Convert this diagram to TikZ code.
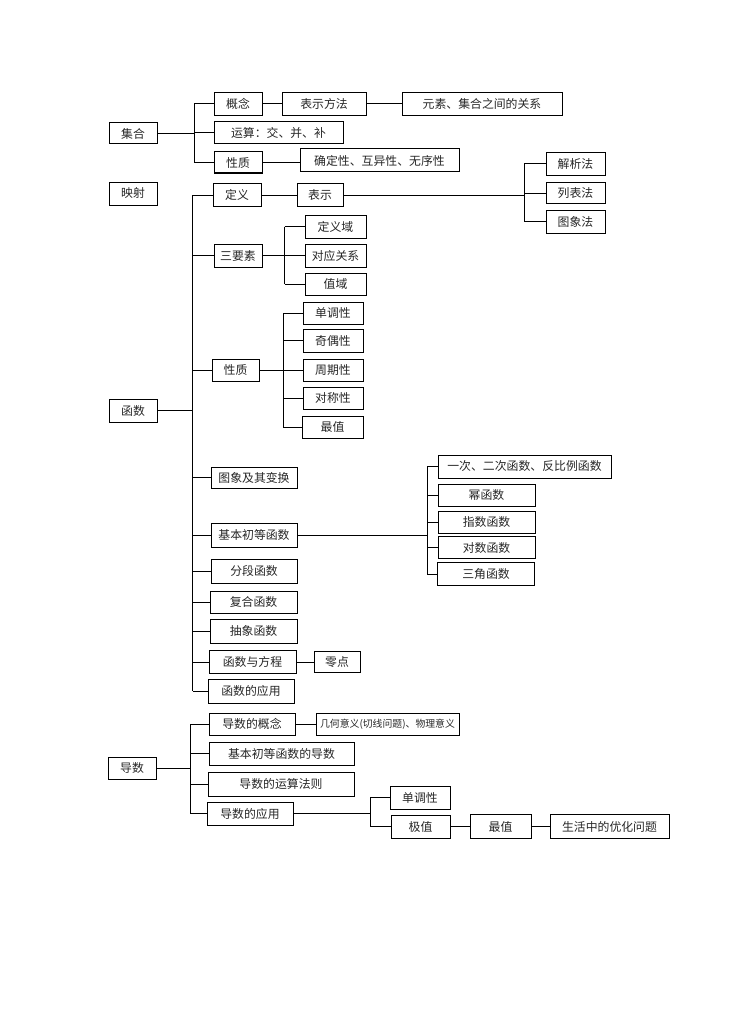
\documentclass[tikz,border=0pt]{standalone}
\usepackage{fontspec}
\setmainfont{Noto Sans CJK SC}
\usepackage{tikz}

\begin{document}
\begin{tikzpicture}[
    x=0.75pt, y=-0.75pt,
    box/.style={draw,line width=0.75pt,inner sep=0pt,minimum height=17.25pt,
        text=black!85,font=\fontsize{8.9}{10}\selectfont},
    bw/.style={minimum width=#1*0.75pt},
    bh/.style={minimum height=#1*0.75pt},
    link/.style={line width=0.75pt}
]
\useasboundingbox (0,0) rectangle (737,1020);

% 集合
\node[box,bw=48,bh=21] (jihe) at (133,133.5) {集合};
\node[box,bw=48] (gainian) at (238,104) {概念};
\node[box,bw=84] (fangfa) at (324,104) {表示方法};
\node[box,bw=160] (guanxi) at (482,104) {元素、集合之间的关系};
\node[box,bw=129,bh=22] (yunsuan) at (278.5,133) {运算：交、并、补};
\node[box,bw=48,bh=21] (xingzhiJ) at (238,162.5) {性质};
\node[box,bw=159] (queding) at (379.5,160.5) {确定性、互异性、无序性};

% 映射
\node[box,bw=48] (yingshe) at (133,193.5) {映射};

% 函数
\node[box,bw=48] (hanshu) at (133,410.5) {函数};
\node[box,bw=48] (dingyi) at (237,195) {定义};
\node[box,bw=46] (biaoshi) at (320,195) {表示};
\node[box,bw=59,bh=22] (jiexi) at (575.5,164) {解析法};
\node[box,bw=59,bh=21] (liebiao) at (575.5,193) {列表法};
\node[box,bw=59] (tuxiangfa) at (575.5,221.5) {图象法};

\node[box,bw=48] (yaosu) at (238,255.5) {三要素};
\node[box,bw=61] (dingyiyu) at (335.5,226.5) {定义域};
\node[box,bw=61] (duiying) at (335.5,255.5) {对应关系};
\node[box,bw=61,bh=22] (zhiyu) at (335.5,284) {值域};

\node[box,bw=47,bh=22] (xingzhiH) at (235.5,370) {性质};
\node[box,bw=60,bh=22] (dandiaoH) at (333,313) {单调性};
\node[box,bw=60] (jiou) at (333,340.5) {奇偶性};
\node[box,bw=60,bh=22] (zhouqi) at (333,370) {周期性};
\node[box,bw=60,bh=22] (duicheng) at (333,398) {对称性};
\node[box,bw=61,bh=22] (zuizhiH) at (332.5,427) {最值};

\node[box,bw=86,bh=21] (bianhuan) at (254,477.5) {图象及其变换};
\node[box,bw=86,bh=24] (jiben) at (254,535) {基本初等函数};
\node[box,bw=86,bh=24] (fenduan) at (254,571) {分段函数};
\node[box,bw=87,bh=22] (fuhe) at (253.5,602) {复合函数};
\node[box,bw=87,bh=24] (chouxiang) at (253.5,631) {抽象函数};
\node[box,bw=87] (fangcheng) at (252.5,662) {函数与方程};
\node[box,bw=46,bh=21] (lingdian) at (337,662) {零点};
\node[box,bw=86,bh=24] (yingyongH) at (251,691) {函数的应用};

\node[box,bw=173] (yici) at (524.5,466.5) {一次、二次函数、反比例函数};
\node[box,bw=97,bh=22] (mi) at (486.5,495) {幂函数};
\node[box,bw=97,bh=22] (zhishu) at (486.5,522) {指数函数};
\node[box,bw=97,bh=22] (duishu) at (486.5,547.5) {对数函数};
\node[box,bw=97] (sanjiao) at (486,574) {三角函数};

% 导数
\node[box,bw=48,bh=22] (daoshu) at (132,768) {导数};
\node[box,bw=86,bh=22] (gainianD) at (252,724) {导数的概念};
\node[box,bw=143,bh=22,font=\fontsize{7.4}{9}\selectfont] (yiyi) at (387.5,724) {几何意义(切线问题)、物理意义};
\node[box,bw=145] (jibenD) at (281.5,753.5) {基本初等函数的导数};
\node[box,bw=146,bh=24] (fazeD) at (281,784) {导数的运算法则};
\node[box,bw=86] (yingyongD) at (250,813.5) {导数的应用};
\node[box,bw=60] (dandiaoD) at (420,797.5) {单调性};
\node[box,bw=59] (jizhi) at (420.5,826.5) {极值};
\node[box,bw=61,bh=24] (zuizhiD) at (500.5,826.5) {最值};
\node[box,bw=119,bh=24] (youhua) at (609.5,826.5) {生活中的优化问题};

% 分叉点
\coordinate (bJ) at (194,133.5);
\coordinate (bS) at (524.3,195);
\coordinate (bF) at (192.5,410.5);
\coordinate (bY) at (284.5,255.5);
\coordinate (bX) at (283,370);
\coordinate (bE) at (427.3,535);
\coordinate (bD) at (190.7,768);
\coordinate (bA) at (370,813.5);

% 集合的连线
\draw[link] (jihe) -- (bJ);
\draw[link] (bJ |- gainian) -- (bJ |- xingzhiJ);
\foreach \n in {gainian,yunsuan,xingzhiJ}
    \draw[link] (bJ |- \n) -- (\n);
\draw[link] (gainian) -- (fangfa);
\draw[link] (fangfa) -- (guanxi);
\draw[link] (xingzhiJ.east) -- (xingzhiJ.east -| queding.west);

% 函数的连线
\draw[link] (hanshu) -- (bF);
\draw[link] (bF |- dingyi) -- (bF |- yingyongH);
\foreach \n in {dingyi,yaosu,xingzhiH,bianhuan,jiben,fenduan,fuhe,chouxiang,fangcheng,yingyongH}
    \draw[link] (bF |- \n) -- (\n);
\draw[link] (dingyi) -- (biaoshi);
\draw[link] (biaoshi) -- (bS);
\draw[link] (bS |- jiexi) -- (bS |- tuxiangfa);
\foreach \n in {jiexi,liebiao,tuxiangfa}
    \draw[link] (bS |- \n) -- (\n);
\draw[link] (yaosu) -- (bY);
\draw[link] (bY |- dingyiyu) -- (bY |- zhiyu);
\foreach \n in {dingyiyu,duiying,zhiyu}
    \draw[link] (bY |- \n) -- (\n);
\draw[link] (xingzhiH) -- (bX);
\draw[link] (bX |- dandiaoH) -- (bX |- zuizhiH);
\foreach \n in {dandiaoH,jiou,zhouqi,duicheng,zuizhiH}
    \draw[link] (bX |- \n) -- (\n);
\draw[link] (jiben) -- (bE);
\draw[link] (bE |- yici) -- (bE |- sanjiao);
\foreach \n in {yici,mi,zhishu,duishu,sanjiao}
    \draw[link] (bE |- \n) -- (\n);
\draw[link] (fangcheng) -- (lingdian);

% 导数的连线
\draw[link] (daoshu) -- (bD);
\draw[link] (bD |- gainianD) -- (bD |- yingyongD);
\foreach \n in {gainianD,jibenD,fazeD,yingyongD}
    \draw[link] (bD |- \n) -- (\n);
\draw[link] (gainianD) -- (yiyi);
\draw[link] (yingyongD) -- (bA);
\draw[link] (bA |- dandiaoD) -- (bA |- jizhi);
\foreach \n in {dandiaoD,jizhi}
    \draw[link] (bA |- \n) -- (\n);
\draw[link] (jizhi) -- (zuizhiD);
\draw[link] (zuizhiD) -- (youhua);
\end{tikzpicture}
\end{document}
